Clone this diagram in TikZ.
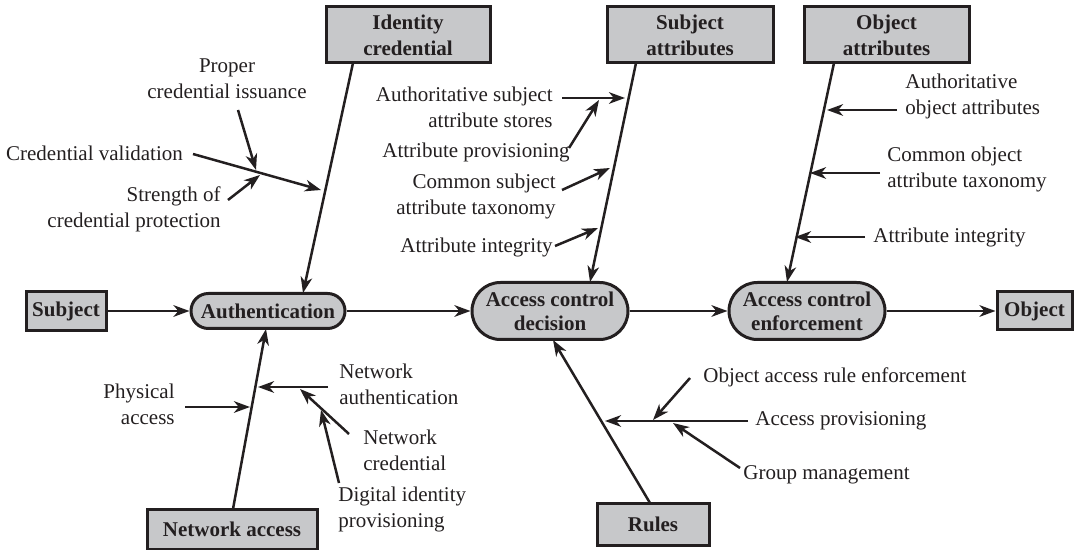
\documentclass[tikz,border=0pt]{standalone}
\usepackage{fontspec}
\setmainfont{Liberation Serif}
\usetikzlibrary{arrows.meta}
\definecolor{boxgray}{RGB}{199,200,202}
\definecolor{ink}{RGB}{35,31,32}
\begin{document}
\begin{tikzpicture}[x=0.5pt,y=-0.5pt,
  font=\fontsize{10.5}{13}\selectfont,
  sqbox/.style={draw=ink, line width=1.5pt, fill=boxgray, text=ink,
    font=\fontsize{10.5}{13}\selectfont\bfseries, align=center, inner sep=0pt},
  pill/.style={draw=ink, line width=1.5pt, fill=boxgray, text=ink,
    font=\fontsize{10.5}{12}\selectfont\bfseries, align=center, inner sep=0pt},
  lbl/.style={inner sep=0pt, text=ink},
  arr/.style={draw=ink, line width=1.25pt, -{Stealth[length=8pt,width=5.8pt,inset=2.4pt]}},
]
\useasboundingbox (0,0) rectangle (1081,550);

% main boxes
\node[sqbox, minimum width=82pt, minimum height=28pt] (idc) at (408,35) {Identity\\credential};
\node[sqbox, minimum width=83pt, minimum height=28pt] (sat) at (690,35) {Subject\\attributes};
\node[sqbox, minimum width=82.5pt, minimum height=28pt] (oat) at (886.5,35) {Object\\attributes};
\node[sqbox, minimum width=40pt, minimum height=19.5pt] (subj) at (66,311) {Subject};
\node[pill, rounded corners=8.7pt, minimum width=77pt, minimum height=17.5pt] (auth) at (268,311) {Authentication};
\node[pill, rounded corners=14.2pt, minimum width=78pt, minimum height=28.5pt] (acd) at (550,311) {Access control\\decision};
\node[pill, rounded corners=14.2pt, minimum width=78pt, minimum height=28.5pt] (ace) at (807,311) {Access control\\enforcement};
\node[sqbox, minimum width=37.5pt, minimum height=19pt] (obj) at (1034.5,311) {Object};
\node[sqbox, minimum width=85pt, minimum height=20pt] (net) at (232,529) {Network access};
\node[sqbox, minimum width=56pt, minimum height=21pt] (rules) at (653,524) {Rules};

% main flow
\draw[arr] (subj) -- (auth);
\draw[arr] (auth) -- (acd);
\draw[arr] (acd) -- (ace);
\draw[arr] (ace) -- (obj);

% spines
\coordinate (idcA) at (353,63);  \coordinate (idcB) at (303,293);
\coordinate (satA) at (636,63);  \coordinate (satB) at (590,282);
\coordinate (oatA) at (834,63);  \coordinate (oatB) at (787,282);
\coordinate (netA) at (233,509); \coordinate (netB) at (266,329);
\coordinate (rulA) at (650,503); \coordinate (rulB) at (553,340);
\draw[arr] (idcA) -- (idcB);
\draw[arr] (satA) -- (satB);
\draw[arr] (oatA) -- (oatB);
\draw[arr] (netA) -- (netB);
\draw[arr] (rulA) -- (rulB);

% labels
\node[lbl, align=center] (t1) at (227,78.5) {Proper\\credential issuance};
\node[lbl] (t2) at (94.5,153) {Credential validation};
\node[lbl, align=right, anchor=east] (t3) at (221,209.5) {Strength of\\credential protection};
\node[lbl, align=right, anchor=east] (t4) at (553,107) {Authoritative subject\\attribute stores};
\node[lbl, anchor=east] (t5) at (570,152) {Attribute provisioning};
\node[lbl, align=right, anchor=east] (t6) at (556,196.5) {Common subject\\attribute taxonomy};
\node[lbl, anchor=east] (t7) at (553,247) {Attribute integrity};
\node[lbl, align=left, anchor=west] (t8) at (905,96.5) {Authoritative\\object attributes};
\node[lbl, align=left, anchor=west] (t9) at (887,169.5) {Common object\\attribute taxonomy};
\node[lbl, anchor=west] (t10) at (873,237) {Attribute integrity};
\node[lbl, align=right, anchor=east] (t11) at (175,404.5) {Physical\\access};
\node[lbl, align=left, anchor=west] (t12) at (339,384.5) {Network\\authentication};
\node[lbl, align=left, anchor=west] (t13) at (363,450.5) {Network\\credential};
\node[lbl, align=left, anchor=west] (t14) at (338,509.5) {Digital identity\\provisioning};
\node[lbl, anchor=west] (t15) at (703,377) {Object access rule enforcement};
\node[lbl, anchor=west] (t16) at (755,421) {Access provisioning};
\node[lbl, anchor=west] (t17) at (743,475) {Group management};

% branch arrows
\coordinate (a1s) at (193,154); \coordinate (a1e) at (321,190);
\coordinate (a2s) at (238,110); \coordinate (a2e) at (256,170);
\coordinate (a3s) at (228,200); \coordinate (a3e) at (260,175);
\coordinate (a4s) at (562,98);  \coordinate (a4e) at (625,98);
\coordinate (a5s) at (569,148); \coordinate (a5e) at (599,100);
\coordinate (a6s) at (562,190); \coordinate (a6e) at (610,168);
\coordinate (a7s) at (555,246); \coordinate (a7e) at (598,228);
\coordinate (a8s) at (897,110); \coordinate (a8e) at (827,110);
\coordinate (a9s) at (880,173); \coordinate (a9e) at (810,173);
\coordinate (a10s) at (865,237); \coordinate (a10e) at (795,237);
\coordinate (a11s) at (185,407); \coordinate (a11e) at (250,407);
\coordinate (a12s) at (328,387); \coordinate (a12e) at (258,387);
\coordinate (a13s) at (349,434); \coordinate (a13e) at (300,389);
\coordinate (a14s) at (339,483); \coordinate (a14e) at (321,410);
\coordinate (a15s) at (690,378); \coordinate (a15e) at (653,420);
\coordinate (a16s) at (748,421); \coordinate (a16e) at (605,421);
\coordinate (a17s) at (740,468); \coordinate (a17e) at (673,423);
\foreach \i in {1,...,17}{\draw[arr] (a\i s) -- (a\i e);}
\end{tikzpicture}
\end{document}
